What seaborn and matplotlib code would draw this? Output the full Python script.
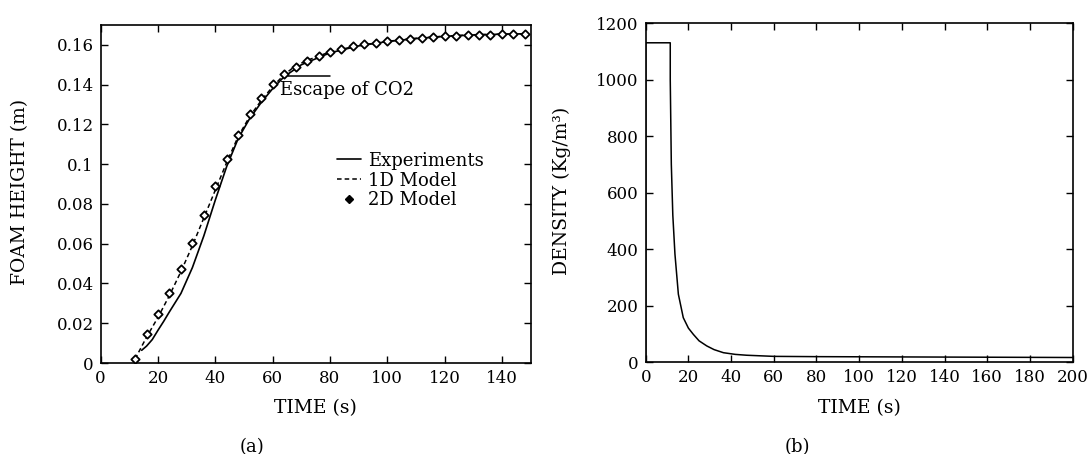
import matplotlib
matplotlib.use("Agg")
import matplotlib.pyplot as plt
from matplotlib.lines import Line2D
import seaborn as sns
import pandas as pd

# ---- foam height data (panel a) ----
model2d_time = [12, 16, 20, 24, 28, 32, 36, 40, 44, 48, 52, 56, 60, 64, 68, 72,
                76, 80, 84, 88, 92, 96, 100, 104, 108, 112, 116, 120, 124, 128,
                132, 136, 140, 144, 148]
model2d_height = [0.002, 0.0145, 0.0245, 0.0354, 0.0473, 0.0603, 0.0746, 0.0888,
                  0.1024, 0.1148, 0.1252, 0.1332, 0.1401, 0.1453, 0.149, 0.1519,
                  0.1544, 0.1563, 0.1581, 0.1592, 0.1603, 0.1612, 0.1618, 0.1625,
                  0.163, 0.1635, 0.164, 0.1644, 0.1647, 0.1649, 0.1652, 0.1652,
                  0.1654, 0.1656, 0.1656]

model1d_time = [12, 16, 20, 24, 28, 32, 36, 40, 44, 48, 52, 56, 60, 64, 68, 72,
                80, 90, 100, 110, 120, 130, 140, 148]
model1d_height = [0.002, 0.013, 0.023, 0.034, 0.046, 0.059, 0.073, 0.087, 0.101,
                  0.114, 0.124, 0.132, 0.139, 0.145, 0.1495, 0.1522, 0.1565,
                  0.1597, 0.1618, 0.1633, 0.1644, 0.1651, 0.1654, 0.1656]

exp_time = [14.3, 16, 18, 20, 22, 24, 28, 32, 36, 40, 44, 48, 52, 56, 60, 64,
            70, 80, 90, 100, 110, 120, 130, 140, 148]
exp_height = [0.0064, 0.0085, 0.0118, 0.0165, 0.021, 0.0258, 0.035, 0.048, 0.064,
              0.082, 0.099, 0.113, 0.123, 0.131, 0.138, 0.144, 0.150, 0.156,
              0.1595, 0.1617, 0.1632, 0.1643, 0.165, 0.1654, 0.1656]

escape_time = [65.5, 80]
escape_height = [0.1443, 0.1443]

# ---- density data (panel b) ----
density_time = [0, 0, 11.5, 11.5, 12.0, 12.7, 13.7, 15.3, 17.6, 20, 22.3, 25, 28.6,
                32, 36.4, 42, 47.3, 60, 80, 100, 120, 140, 160, 180, 200]
density = [0, 1130, 1130, 1000, 700, 520, 382, 240, 157, 120, 98, 75, 57, 44, 33,
           27, 24, 20, 19, 18.5, 18, 17.5, 17, 16.5, 16]

foam_xticks = [0, 20, 40, 60, 80, 100, 120, 140]
foam_yticks = [0, 0.02, 0.04, 0.06, 0.08, 0.1, 0.12, 0.14, 0.16]
foam_ytick_labels = ["0", "0.02", "0.04", "0.06", "0.08", "0.1", "0.12", "0.14", "0.16"]
dens_xticks = [0, 20, 40, 60, 80, 100, 120, 140, 160, 180, 200]
dens_yticks = [0, 200, 400, 600, 800, 1000, 1200]

sns.set_theme(style="ticks")
plt.rcParams["font.family"] = ["DejaVu Serif"]
plt.rcParams["text.color"] = "black"
plt.rcParams["axes.labelcolor"] = "black"
plt.rcParams["xtick.color"] = "black"
plt.rcParams["ytick.color"] = "black"
plt.rcParams["xtick.direction"] = "in"
plt.rcParams["ytick.direction"] = "in"

TICK_FS = 12
LABEL_FS = 13.5
TEXT_FS = 13

fig = plt.figure(figsize=(10.92, 4.54), dpi=100)
ax1 = fig.add_axes([0.0922, 0.2004, 0.3937, 0.7445])
ax2 = fig.add_axes([0.5913, 0.2026, 0.3910, 0.7467])

for ax in (ax1, ax2):
    for s in ax.spines.values():
        s.set_color("black")
        s.set_linewidth(1.2)
    ax.tick_params(which="both", top=True, right=True, length=5, width=1,
                   color="black", labelsize=TICK_FS, labelcolor="black", pad=5)

# panel (a): foam height
exp_df = pd.DataFrame({"t": exp_time, "h": exp_height})
m1_df = pd.DataFrame({"t": model1d_time, "h": model1d_height})
m2_df = pd.DataFrame({"t": model2d_time, "h": model2d_height})

sns.lineplot(data=exp_df, x="t", y="h", ax=ax1, color="black", lw=1.2,
             estimator=None, sort=False)
sns.lineplot(data=m1_df, x="t", y="h", ax=ax1, color="black", lw=1.1,
             estimator=None, sort=False, linestyle=(0, (3, 2)))
sns.scatterplot(data=m2_df, x="t", y="h", ax=ax1, marker="D", s=18,
                facecolor="white", edgecolor="black", linewidth=1.3, zorder=3)
ax1.plot(escape_time, escape_height, color="black", lw=1.1)
ax1.text(62.6, 0.1374, "Escape of CO2", fontsize=TEXT_FS, va="center", ha="left",
         color="black")

ax1.set_xlim(0, 150)
ax1.set_ylim(0, 0.17)
ax1.set_xticks(foam_xticks)
ax1.set_yticks(foam_yticks)
ax1.set_yticklabels(foam_ytick_labels)
ax1.set_xlabel("TIME (s)", fontsize=LABEL_FS, color="black")
ax1.set_ylabel("FOAM HEIGHT (m)", fontsize=LABEL_FS, color="black")
ax1.xaxis.set_label_coords(0.5, -0.134)
ax1.xaxis.label.set_va("center")
ax1.yaxis.set_label_coords(-0.188, 0.505)
ax1.yaxis.label.set_va("center")

handles = [
    Line2D([], [], color="black", lw=1.2),
    Line2D([], [], color="black", lw=1.1, linestyle=(0, (3, 2))),
    Line2D([], [], color="black", marker="D", markersize=4, lw=0,
           markerfacecolor="black"),
]
leg = ax1.legend(handles, ["Experiments", "1D Model", "2D Model"],
                 loc="upper left", bbox_to_anchor=(0.55, 0.625), frameon=False,
                 fontsize=TEXT_FS, handlelength=1.3, handletextpad=0.4,
                 labelspacing=0.1, borderpad=0, borderaxespad=0)
for t in leg.get_texts():
    t.set_color("black")

# panel (b): density
dens_df = pd.DataFrame({"t": density_time, "rho": density})
sns.lineplot(data=dens_df, x="t", y="rho", ax=ax2, color="black", lw=1.1,
             estimator=None, sort=False)
ax2.set_xlim(0, 200)
ax2.set_ylim(0, 1200)
ax2.set_xticks(dens_xticks)
ax2.set_yticks(dens_yticks)
ax2.set_xlabel("TIME (s)", fontsize=LABEL_FS, color="black")
ax2.set_ylabel("DENSITY (Kg/m³)", fontsize=LABEL_FS, color="black")
ax2.xaxis.set_label_coords(0.5, -0.137)
ax2.xaxis.label.set_va("center")
ax2.yaxis.set_label_coords(-0.196, 0.505)
ax2.yaxis.label.set_va("center")

fig.text(252 / 1092, 1 - 447 / 454, "(a)", fontsize=TEXT_FS, ha="center",
         va="center", color="black")
fig.text(797 / 1092, 1 - 447 / 454, "(b)", fontsize=TEXT_FS, ha="center",
         va="center", color="black")

fig.savefig("out.png", dpi=100)
